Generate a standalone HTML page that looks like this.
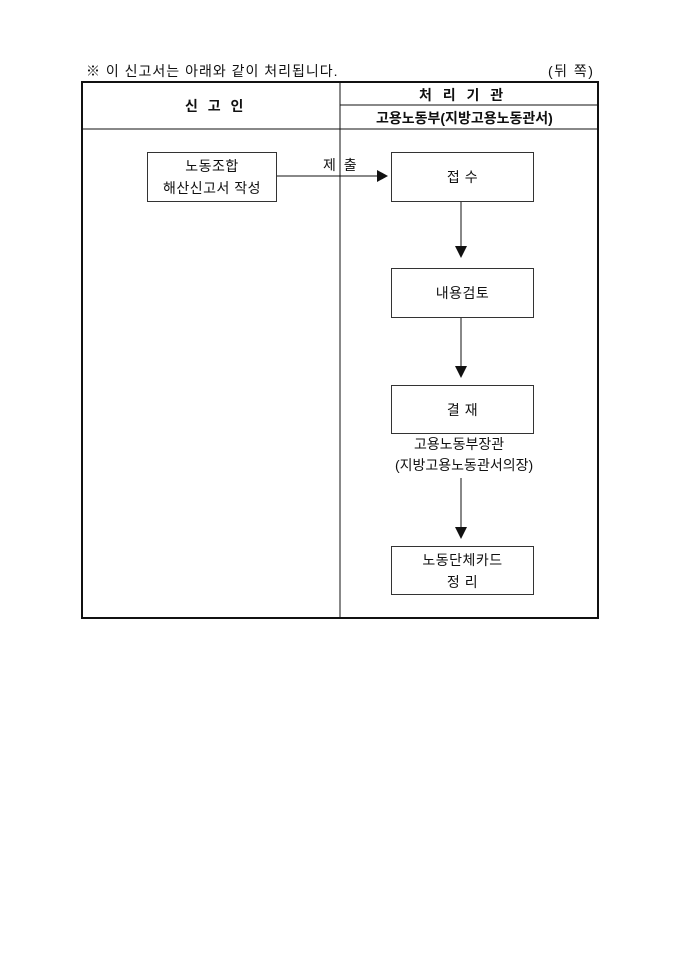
<!DOCTYPE html>
<html><head><meta charset="utf-8"><style>
body{margin:0;background:#fff;width:680px;height:962px;position:relative;font-family:"Liberation Sans","Noto Sans CJK KR",sans-serif;color:#111}
.t{position:absolute;white-space:nowrap;font-size:14px}
.b{position:absolute;border:1px solid #333;box-sizing:border-box;display:flex;flex-direction:column;align-items:center;justify-content:center;font-size:14px;line-height:22px;text-align:center;letter-spacing:0.5px}
</style></head><body>
<div class="t" style="left:86px;top:61px;letter-spacing:1px;">※ 이 신고서는 아래와 같이 처리됩니다.</div>
<div class="t" style="left:548px;top:61px;letter-spacing:1.5px;">(뒤 쪽)</div>
<svg width="680" height="962" style="position:absolute;left:0;top:0">
<rect x="82" y="82" width="516" height="536" fill="none" stroke="#111" stroke-width="2"/>
<line x1="340" y1="82" x2="340" y2="618" stroke="#111" stroke-width="1"/>
<line x1="340" y1="105" x2="598" y2="105" stroke="#111" stroke-width="1"/>
<line x1="82" y1="129" x2="598" y2="129" stroke="#111" stroke-width="1"/>
<line x1="276" y1="176" x2="378" y2="176" stroke="#111"/>
<polygon points="377,170 388,176 377,182" fill="#111"/>
<line x1="461" y1="201" x2="461" y2="246" stroke="#111"/>
<polygon points="455,246 467,246 461,258" fill="#111"/>
<line x1="461" y1="317" x2="461" y2="366" stroke="#111"/>
<polygon points="455,366 467,366 461,378" fill="#111"/>
<line x1="461" y1="478" x2="461" y2="527" stroke="#111"/>
<polygon points="455,527 467,527 461,539" fill="#111"/>
</svg>
<div class="t" style="left:185px;top:96px;font-weight:bold;letter-spacing:3px;">신 고 인</div>
<div class="t" style="left:419px;top:85px;font-weight:bold;letter-spacing:3.5px;">처 리 기 관</div>
<div class="t" style="left:376px;top:108px;font-weight:bold;">고용노동부(지방고용노동관서)</div>
<div class="t" style="left:323px;top:155px;letter-spacing:2px;">제 출</div>
<div class="b" style="left:147px;top:152px;width:130px;height:50px;">노동조합<br>해산신고서 작성</div>
<div class="b" style="left:391px;top:152px;width:143px;height:50px;">접 수</div>
<div class="b" style="left:391px;top:268px;width:143px;height:50px;">내용검토</div>
<div class="b" style="left:391px;top:385px;width:143px;height:49px;">결 재</div>
<div class="t" style="left:414px;top:434px;">고용노동부장관</div>
<div class="t" style="left:395px;top:455px;">(지방고용노동관서의장)</div>
<div class="b" style="left:391px;top:546px;width:143px;height:49px;">노동단체카드<br>정 리</div>
</body></html>
